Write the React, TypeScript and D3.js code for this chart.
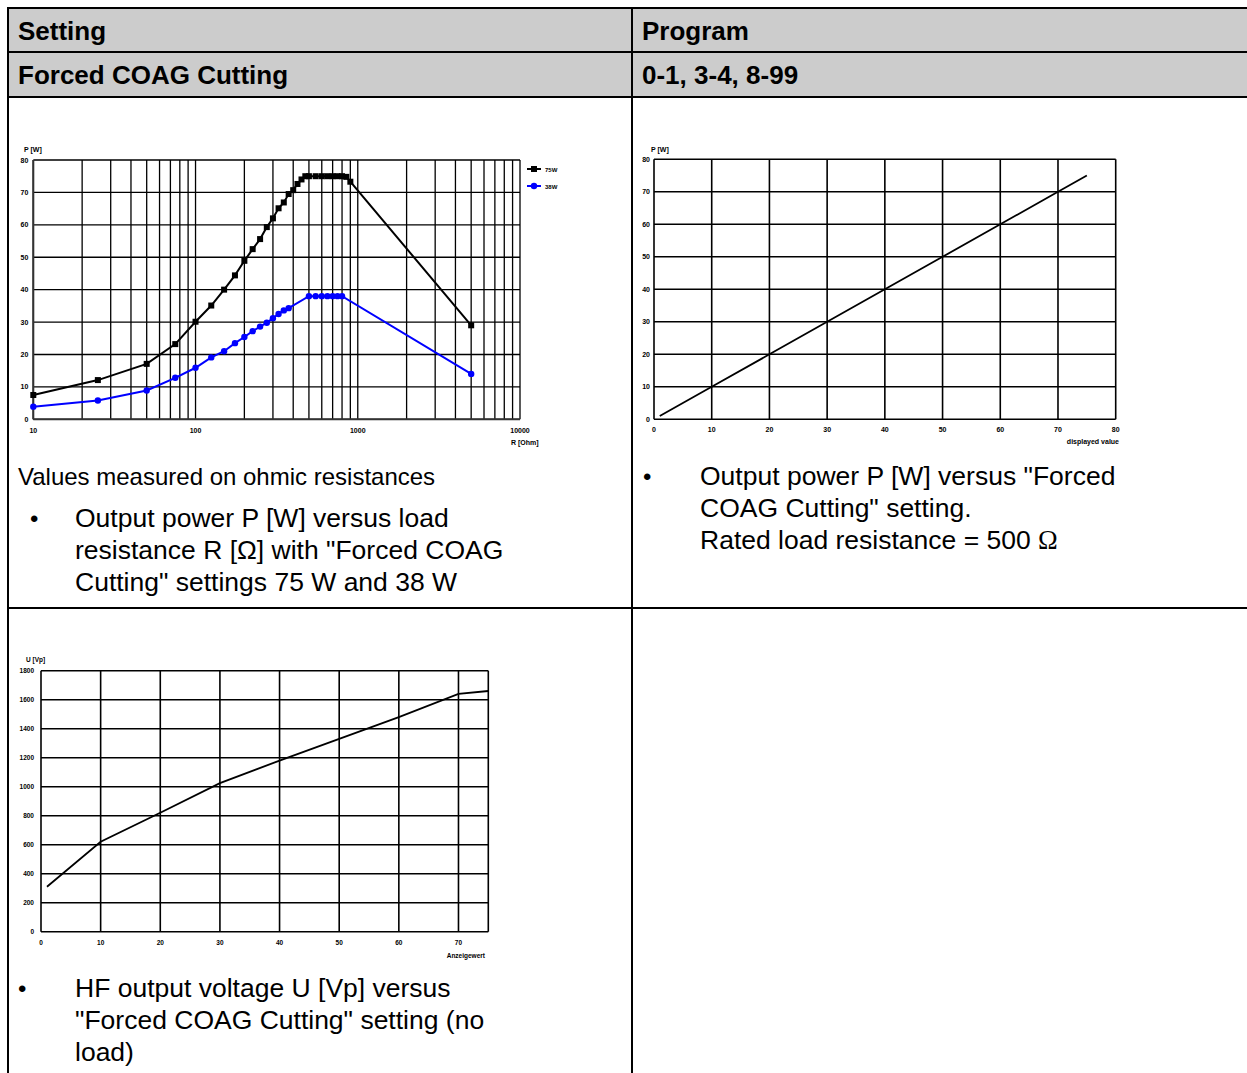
import React from "react";
import * as d3 from "d3";

// ---------- Data ----------
// Chart 1: output power vs load resistance (log x)
const R_75W = [10, 25, 50, 75, 100, 125, 150, 175, 200, 225, 250, 275, 300, 325, 350, 375, 400, 425, 450, 475, 500, 550, 600, 650, 700, 750, 800, 850, 900, 5000];
const P_75W = [7.5, 12.1, 17.1, 23.2, 30.1, 35.1, 40, 44.4, 48.9, 52.5, 55.6, 59.3, 62, 65.1, 66.9, 69.5, 70.7, 72.6, 74, 75, 75, 75, 75, 75, 75, 75, 75, 74.8, 73.3, 29];
const R_38W = [10, 25, 50, 75, 100, 125, 150, 175, 200, 225, 250, 275, 300, 325, 350, 375, 500, 550, 600, 650, 700, 750, 800, 5000];
const P_38W = [3.9, 5.8, 8.9, 12.8, 15.9, 19.1, 21, 23.5, 25.4, 27.2, 28.6, 29.8, 31.2, 32.5, 33.6, 34.3, 38, 38, 38, 38, 38, 38, 38, 14];
const LOG_TICK_LABELS = [10, 100, 1000, 10000];
const P_TICKS = [0, 10, 20, 30, 40, 50, 60, 70, 80];

// Chart 2: output power vs displayed value
const SETTING_2 = [1, 10, 20, 30, 40, 50, 60, 70, 75];
const POWER_2 = [1, 10, 20, 30, 40, 50, 60, 70, 75];
const X_TICKS_2 = [0, 10, 20, 30, 40, 50, 60, 70, 80];

// Chart 3: HF output voltage vs setting
const SETTING_3 = [1, 10, 20, 30, 40, 50, 60, 70, 75];
const VOLT_3 = [310, 620, 820, 1025, 1180, 1330, 1480, 1640, 1660];
const X_TICKS_3 = [0, 10, 20, 30, 40, 50, 60, 70];
const U_TICKS = [0, 200, 400, 600, 800, 1000, 1200, 1400, 1600, 1800];

const TABLE_FONT = "'Liberation Sans', Arial, Helvetica, sans-serif";
const TICK_STYLE: React.CSSProperties = { fontFamily: TABLE_FONT, fontSize: 7, fontWeight: 700, fill: "#000" };

function Chart1() {
  const x = d3.scaleLog().domain([10, 10000]).range([33.3, 520]);
  const y = d3.scaleLinear().domain([0, 80]).range([419.3, 160]);
  const vGrid: number[] = [];
  [10, 100, 1000].forEach((d) => { for (let k = 1; k <= 9; k++) vGrid.push(k * d); });
  vGrid.push(10000);
  const line = d3.line<[number, number]>().x((d) => x(d[0])).y((d) => y(d[1]));
  const s75: [number, number][] = R_75W.map((r, i) => [r, P_75W[i]]);
  const s38: [number, number][] = R_38W.map((r, i) => [r, P_38W[i]]);
  return (
    <g>
      {P_TICKS.map((t) => (
        <line key={"h" + t} x1={x(10)} x2={x(10000)} y1={y(t)} y2={y(t)} stroke="#000" strokeWidth={1.3} />
      ))}
      {vGrid.map((v) => (
        <line key={"v" + v} x1={x(v)} x2={x(v)} y1={y(0)} y2={y(80)} stroke="#000" strokeWidth={1.3} />
      ))}
      <line x1={x(10)} x2={x(10)} y1={y(0)} y2={y(80)} stroke="#333" strokeWidth={2} />
      <line x1={x(10)} x2={x(10000)} y1={y(0)} y2={y(0)} stroke="#333" strokeWidth={2} />
      {P_TICKS.map((t) => (
        <text key={"yl" + t} x={x(10) - 5} y={y(t) + 2.5} textAnchor="end" style={TICK_STYLE}>{t}</text>
      ))}
      {LOG_TICK_LABELS.map((t) => (
        <text key={"xl" + t} x={x(t)} y={433} textAnchor="middle" style={TICK_STYLE}>{t}</text>
      ))}
      <text x={24} y={152} style={TICK_STYLE}>P [W]</text>
      <text x={511} y={445} style={TICK_STYLE}>R [Ohm]</text>
      <path d={line(s75) || ""} fill="none" stroke="#000" strokeWidth={2} />
      <path d={line(s38) || ""} fill="none" stroke="#0000ff" strokeWidth={2} />
      {s75.map((d, i) => (
        <rect key={"m75" + i} x={x(d[0]) - 3} y={y(d[1]) - 3} width={6} height={6} fill="#000" />
      ))}
      {s38.map((d, i) => (
        <circle key={"m38" + i} cx={x(d[0])} cy={y(d[1])} r={3.2} fill="#0000ff" />
      ))}
      {/* legend */}
      <line x1={527} x2={541} y1={169} y2={169} stroke="#000" strokeWidth={2} />
      <rect x={531} y={166} width={6} height={6} fill="#000" />
      <text x={545} y={172} style={{ ...TICK_STYLE, fontSize: 6 }}>75W</text>
      <line x1={527} x2={541} y1={186} y2={186} stroke="#0000ff" strokeWidth={2} />
      <circle cx={534} cy={186} r={3.2} fill="#0000ff" />
      <text x={545} y={189} style={{ ...TICK_STYLE, fontSize: 6 }}>38W</text>
    </g>
  );
}

function Chart2() {
  const x = d3.scaleLinear().domain([0, 80]).range([654, 1115.7]);
  const y = d3.scaleLinear().domain([0, 80]).range([419.3, 159.3]);
  const line = d3.line<number>().x((d) => x(d)).y((_, i) => y(POWER_2[i]));
  return (
    <g>
      {P_TICKS.map((t) => (
        <line key={"h" + t} x1={x(0)} x2={x(80)} y1={y(t)} y2={y(t)} stroke="#000" strokeWidth={1.6} />
      ))}
      {X_TICKS_2.map((t) => (
        <line key={"v" + t} x1={x(t)} x2={x(t)} y1={y(0)} y2={y(80)} stroke="#000" strokeWidth={1.6} />
      ))}
      {P_TICKS.map((t) => (
        <text key={"yl" + t} x={x(0) - 4} y={y(t) + 2.5} textAnchor="end" style={TICK_STYLE}>{t}</text>
      ))}
      {X_TICKS_2.map((t) => (
        <text key={"xl" + t} x={x(t)} y={432} textAnchor="middle" style={TICK_STYLE}>{t}</text>
      ))}
      <text x={651} y={152} style={TICK_STYLE}>P [W]</text>
      <text x={1119} y={444} textAnchor="end" style={TICK_STYLE}>displayed value</text>
      <path d={line(SETTING_2) || ""} fill="none" stroke="#000" strokeWidth={1.8} />
    </g>
  );
}

function Chart3() {
  const x = d3.scaleLinear().domain([0, 75]).range([41, 488.3]);
  const y = d3.scaleLinear().domain([0, 1800]).range([931.7, 670.7]);
  const line = d3.line<number>().x((d) => x(d)).y((_, i) => y(VOLT_3[i]));
  const small = { ...TICK_STYLE, fontSize: 6.5 };
  return (
    <g>
      {U_TICKS.map((t) => (
        <line key={"h" + t} x1={x(0)} x2={x(75)} y1={y(t)} y2={y(t)} stroke="#000" strokeWidth={1.6} />
      ))}
      {[...X_TICKS_3, 75].map((t) => (
        <line key={"v" + t} x1={x(t)} x2={x(t)} y1={y(0)} y2={y(1800)} stroke="#000" strokeWidth={1.6} />
      ))}
      {U_TICKS.map((t) => (
        <text key={"yl" + t} x={x(0) - 7} y={y(t) + 2.5} textAnchor="end" style={small}>{t}</text>
      ))}
      {X_TICKS_3.map((t) => (
        <text key={"xl" + t} x={x(t)} y={945} textAnchor="middle" style={small}>{t}</text>
      ))}
      <text x={26} y={662} style={small}>U [Vp]</text>
      <text x={485} y={958} textAnchor="end" style={small}>Anzeigewert</text>
      <path d={line(SETTING_3) || ""} fill="none" stroke="#000" strokeWidth={1.8} />
    </g>
  );
}

const BODY: React.CSSProperties = { fontFamily: TABLE_FONT, fontSize: 24, fill: "#000" };
const BULLET_TXT: React.CSSProperties = { fontFamily: TABLE_FONT, fontSize: 26.5, fill: "#000" };
const HEAD: React.CSSProperties = { fontFamily: TABLE_FONT, fontSize: 26, fontWeight: 700, fill: "#000" };

export default function App() {
  const W = 1247;
  const H = 1073;
  return (
    <div style={{ position: "fixed", left: 0, top: 0, width: W, height: H, overflow: "hidden", background: "#fff" }}>
      <svg width={W} height={H} style={{ display: "block" }}>
        <rect x={0} y={0} width={W} height={H} fill="#fff" />
        <rect x={8} y={8} width={W - 8} height={89} fill="#cccccc" />
        {/* table lines */}
        <line x1={7} x2={W} y1={8} y2={8} stroke="#000" strokeWidth={2} />
        <line x1={7} x2={W} y1={52} y2={52} stroke="#000" strokeWidth={2} />
        <line x1={7} x2={W} y1={97} y2={97} stroke="#000" strokeWidth={2} />
        <line x1={7} x2={W} y1={608} y2={608} stroke="#000" strokeWidth={2} />
        <line x1={8} x2={8} y1={7} y2={H} stroke="#000" strokeWidth={2} />
        <line x1={632} x2={632} y1={7} y2={H} stroke="#000" strokeWidth={2} />
        {/* headers */}
        <text x={18} y={40} style={HEAD}>Setting</text>
        <text x={642} y={40} style={HEAD}>Program</text>
        <text x={18} y={84} style={HEAD}>Forced COAG Cutting</text>
        <text x={642} y={84} style={HEAD}>0-1, 3-4, 8-99</text>

        <Chart1 />
        <Chart2 />
        <Chart3 />

        {/* captions */}
        <text x={18} y={485} style={BODY}>Values measured on ohmic resistances</text>
        <text x={30} y={527} style={BODY}>•</text>
        <text x={75} y={527} style={BULLET_TXT}>Output power P [W] versus load</text>
        <text x={75} y={559} style={BULLET_TXT}>resistance R [Ω] with "Forced COAG</text>
        <text x={75} y={591} style={BULLET_TXT}>Cutting" settings 75 W and 38 W</text>

        <text x={643} y={485} style={BODY}>•</text>
        <text x={700} y={485} style={BULLET_TXT}>Output power P [W] versus "Forced</text>
        <text x={700} y={517} style={BULLET_TXT}>COAG Cutting" setting.</text>
        <text x={700} y={549} style={BULLET_TXT}>
          Rated load resistance = 500 <tspan style={{ fontFamily: "'Liberation Serif', 'Times New Roman', serif" }}>Ω</tspan>
        </text>

        <text x={18} y={997} style={BODY}>•</text>
        <text x={75} y={997} style={BULLET_TXT}>HF output voltage U [Vp] versus</text>
        <text x={75} y={1029} style={BULLET_TXT}>"Forced COAG Cutting" setting (no</text>
        <text x={75} y={1061} style={BULLET_TXT}>load)</text>
      </svg>
    </div>
  );
}
